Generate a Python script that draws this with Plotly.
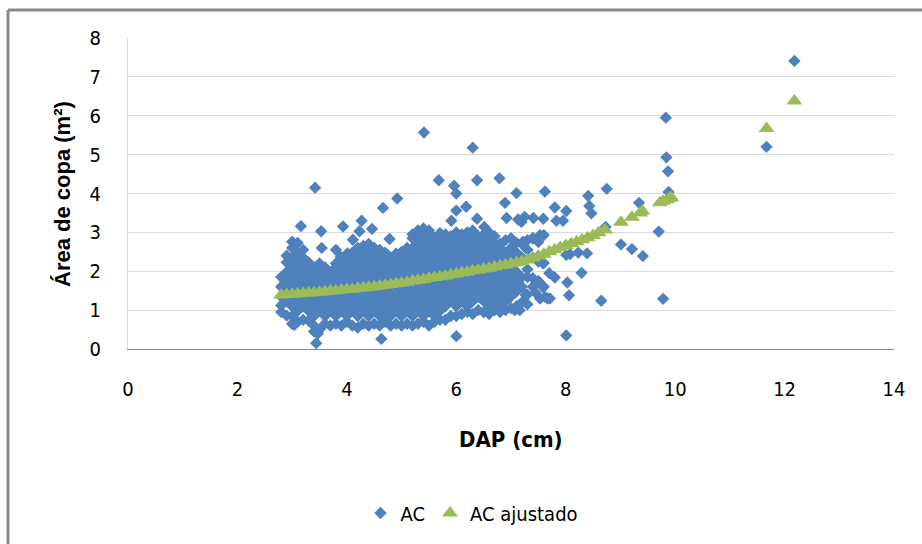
import plotly.graph_objects as go

# ---------------- data ----------------
# Observed crown area (AC): dense cloud, listed column by column (DAP -> AC values)
ac_columns = {
    2.8: [0.95, 1.12, 1.35, 1.6, 1.85],
    2.9: [0.86, 1.23, 1.48, 1.73, 1.98, 2.23, 2.4],
    3.0: [0.65, 0.85, 1.1, 1.35, 1.6, 1.85, 2.1, 2.35, 2.6, 2.76],
    3.1: [0.7, 0.98, 1.23, 1.48, 1.73, 1.98, 2.23, 2.48, 2.73],
    3.2: [0.75, 1.1, 1.35, 1.6, 1.85, 2.1, 2.35, 2.55],
    3.3: [0.73, 0.98, 1.23, 1.48, 1.73, 1.98, 2.23],
    3.4: [0.45, 0.6, 0.85, 1.1, 1.35, 1.6, 1.85, 2.1],
    3.5: [0.5, 0.98, 1.23, 1.48, 1.73, 1.98, 2.2],
    3.6: [0.65, 0.85, 1.1, 1.35, 1.6, 1.85, 2.1],
    3.7: [0.6, 0.98, 1.23, 1.48, 1.73, 1.98],
    3.8: [0.65, 0.85, 1.1, 1.35, 1.6, 1.85, 2.1, 2.2],
    3.9: [0.6, 0.98, 1.23, 1.48, 1.73, 1.98, 2.23],
    4.0: [0.7, 0.85, 1.1, 1.35, 1.6, 1.85, 2.1, 2.35],
    4.1: [0.6, 0.98, 1.23, 1.48, 1.73, 1.98, 2.23, 2.48],
    4.2: [0.55, 0.85, 1.1, 1.35, 1.6, 1.85, 2.1, 2.35, 2.6],
    4.3: [0.65, 0.98, 1.23, 1.48, 1.73, 1.98, 2.23, 2.48, 2.65],
    4.4: [0.6, 0.85, 1.1, 1.35, 1.6, 1.85, 2.1, 2.35, 2.6, 2.7],
    4.5: [0.65, 0.98, 1.23, 1.48, 1.73, 1.98, 2.23, 2.48, 2.6],
    4.6: [0.6, 0.85, 1.1, 1.35, 1.6, 1.85, 2.1, 2.35, 2.55],
    4.7: [0.7, 0.98, 1.23, 1.48, 1.73, 1.98, 2.23, 2.48],
    4.8: [0.6, 0.85, 1.1, 1.35, 1.6, 1.85, 2.1, 2.35],
    4.9: [0.65, 0.98, 1.23, 1.48, 1.73, 1.98, 2.23, 2.45],
    5.0: [0.6, 0.85, 1.1, 1.35, 1.6, 1.85, 2.1, 2.35, 2.5],
    5.1: [0.65, 0.98, 1.23, 1.48, 1.73, 1.98, 2.23, 2.48, 2.6],
    5.2: [0.6, 0.85, 1.1, 1.35, 1.6, 1.85, 2.1, 2.35, 2.6, 2.85, 2.95],
    5.3: [0.65, 0.98, 1.23, 1.48, 1.73, 1.98, 2.23, 2.48, 2.73, 2.98, 3.05],
    5.4: [0.7, 0.85, 1.1, 1.35, 1.6, 1.85, 2.1, 2.35, 2.6, 2.85, 3.1],
    5.5: [0.6, 0.98, 1.23, 1.48, 1.73, 1.98, 2.23, 2.48, 2.73, 2.98, 3.05],
    5.6: [0.7, 0.85, 1.1, 1.35, 1.6, 1.85, 2.1, 2.35, 2.6, 2.85],
    5.7: [0.75, 0.98, 1.23, 1.48, 1.73, 1.98, 2.23, 2.48, 2.73, 2.98],
    5.8: [0.75, 1.1, 1.35, 1.6, 1.85, 2.1, 2.35, 2.6, 2.85, 2.95],
    5.9: [0.85, 1.23, 1.48, 1.73, 1.98, 2.23, 2.48, 2.73, 2.9],
    6.0: [0.85, 1.1, 1.35, 1.6, 1.85, 2.1, 2.35, 2.6, 2.85, 3.0],
    6.1: [0.9, 1.23, 1.48, 1.73, 1.98, 2.23, 2.48, 2.73, 2.95],
    6.2: [0.95, 1.1, 1.35, 1.6, 1.85, 2.1, 2.35, 2.6, 2.85, 3.0],
    6.3: [0.9, 1.23, 1.48, 1.73, 1.98, 2.23, 2.48, 2.73, 2.98, 3.05],
    6.4: [1.0, 1.35, 1.6, 1.85, 2.1, 2.35, 2.6, 2.85, 2.9],
    6.5: [0.95, 1.23, 1.48, 1.73, 1.98, 2.23, 2.48, 2.73, 2.95],
    6.6: [0.9, 1.1, 1.35, 1.6, 1.85, 2.1, 2.35, 2.6, 2.85, 3.0],
    6.7: [1.0, 1.23, 1.48, 1.73, 1.98, 2.23, 2.48, 2.73, 2.9],
    6.8: [0.95, 1.1, 1.35, 1.6, 1.85, 2.1, 2.35, 2.6, 2.7],
    6.9: [1.0, 1.23, 1.48, 1.73, 1.98, 2.23, 2.48, 2.8],
    7.0: [1.05, 1.35, 1.6, 1.85, 2.1, 2.35, 2.6, 2.85],
    7.1: [1.1, 1.48, 1.73, 1.98, 2.23, 2.48, 2.73],
    7.2: [1.2, 1.6, 1.85, 2.35, 2.7],
    7.3: [1.4, 1.85, 2.05, 2.55, 2.8],
    7.4: [1.6, 1.82, 2.35, 2.85],
    7.5: [1.75, 2.25, 2.75],
    7.6: [1.6, 2.21, 2.93],
    7.7: [1.95],
}

# Observed AC: scattered points outside the dense cloud
ac_out_x = [3.16, 3.42, 3.53, 3.93, 4.27, 4.23, 4.46, 4.66, 4.92, 3.54, 3.8, 4.11,
            4.78, 3.44, 3.47, 3.04, 4.63, 3.89, 4.01, 5.41, 6.3, 5.68, 5.96, 6.0,
            6.38, 6.79, 7.1, 6.18, 6.0, 6.89, 6.38, 5.91, 6.92, 7.13, 7.25, 6.51,
            7.22, 6.0, 7.19, 7.41, 7.59, 7.53, 7.4, 7.62, 7.8, 8.01, 7.83, 7.95,
            8.75, 8.41, 8.43, 8.47, 9.34, 9.01, 9.21, 9.41, 8.73, 8.29, 8.06, 8.03,
            7.8, 8.01, 8.65, 9.7, 9.78, 9.83, 9.84, 9.87, 9.88, 11.67, 12.18,
            7.27, 7.53, 7.71, 7.16, 7.07, 8.01, 8.23, 8.39, 8.08, 7.58, 7.58,
            7.62, 7.67, 7.3, 7.45, 2.86]
ac_out_y = [3.16, 4.15, 3.03, 3.15, 3.3, 3.03, 3.09, 3.63, 3.87, 2.6, 2.55, 2.81,
            2.83, 0.15, 0.4, 0.62, 0.26, 2.37, 2.46, 5.57, 5.18, 4.34, 4.2, 4.0,
            4.34, 4.39, 4.01, 3.66, 3.56, 3.76, 3.35, 3.3, 3.37, 3.33, 3.4, 3.14,
            2.76, 0.33, 3.27, 3.37, 3.35, 2.93, 2.85, 4.05, 3.64, 3.55, 3.3, 3.3,
            4.12, 3.94, 3.68, 3.49, 3.76, 2.69, 2.57, 2.39, 3.14, 1.96, 1.38, 1.71,
            1.84, 0.35, 1.24, 3.02, 1.29, 5.95, 4.93, 4.57, 4.04, 5.2, 7.41,
            1.39, 1.3, 1.3, 1.0, 1.0, 2.42, 2.48, 2.46, 2.44, 2.21, 1.6,
            1.34, 1.3, 1.15, 1.45, 1.77]

# Fitted crown area (AC ajustado)
fit_x = [2.8, 2.9, 3.0, 3.1, 3.2, 3.3, 3.4, 3.5, 3.6, 3.7, 3.8, 3.9, 4.0, 4.1,
         4.2, 4.3, 4.4, 4.5, 4.6, 4.7, 4.8, 4.9, 5.0, 5.1, 5.2, 5.3, 5.4, 5.5,
         5.6, 5.7, 5.8, 5.9, 6.0, 6.1, 6.2, 6.3, 6.4, 6.5, 6.6, 6.7, 6.8, 6.9,
         7.0, 7.1, 7.2, 7.3, 7.4, 7.5, 7.6, 7.7, 7.8, 7.9, 8.0, 8.1, 8.2, 8.3,
         8.4, 8.5, 8.6, 8.72, 9.01, 9.21, 9.36, 9.4, 9.72, 9.78, 9.85, 9.9,
         9.93, 11.67, 12.18]
fit_y = [1.39, 1.40, 1.41, 1.42, 1.43, 1.44, 1.45, 1.46, 1.47, 1.49, 1.50, 1.52,
         1.53, 1.54, 1.56, 1.57, 1.59, 1.60, 1.62, 1.64, 1.66, 1.68, 1.70, 1.72,
         1.75, 1.77, 1.79, 1.82, 1.84, 1.86, 1.88, 1.91, 1.93, 1.96, 1.98, 2.01,
         2.03, 2.06, 2.08, 2.11, 2.14, 2.16, 2.19, 2.22, 2.25, 2.29, 2.34, 2.39,
         2.44, 2.50, 2.55, 2.61, 2.66, 2.71, 2.76, 2.81, 2.86, 2.92, 2.99, 3.06,
         3.26, 3.39, 3.50, 3.55, 3.76, 3.80, 3.84, 3.88, 3.90, 5.67, 6.38]

x_ticks = [0, 2, 4, 6, 8, 10, 12, 14]
y_ticks = [0, 1, 2, 3, 4, 5, 6, 7, 8]

# ---------------- figure ----------------
ac_x, ac_y = [], []
for xv, ys in ac_columns.items():
    for yv in ys:
        ac_x.append(xv)
        ac_y.append(yv)
ac_x += ac_out_x
ac_y += ac_out_y

BLUE = "#4f81bd"
GREEN = "#9bbb59"
NARROW = "DejaVu Sans Condensed, Liberation Sans Narrow, sans-serif"
SANS = "Liberation Sans, Arial, sans-serif"

fig = go.Figure()
fig.add_trace(go.Scatter(
    x=ac_x, y=ac_y, mode="markers", name="AC",
    marker=dict(symbol="diamond", size=9.5, color=BLUE, line=dict(width=0)),
))
fig.add_trace(go.Scatter(
    x=fit_x, y=fit_y, mode="markers", name="AC ajustado",
    marker=dict(symbol="triangle-up", size=14, color=GREEN, line=dict(width=0)),
))

L, R, T, B = 128, 28, 38, 195
W, H = 922, 544
pw, ph = W - L - R, H - T - B

def px(xpix):
    return (xpix - L) / pw

def py(ypix):
    return (H - B - ypix) / ph

fig.update_layout(
    width=W, height=H,
    margin=dict(l=L, r=R, t=T, b=B, pad=0),
    paper_bgcolor="white", plot_bgcolor="white",
    showlegend=True,
    legend=dict(orientation="h", x=px(472), y=py(513), xanchor="center", yanchor="middle",
                font=dict(family=NARROW, size=20, color="#000000"),
                itemwidth=30, tracegroupgap=0, bgcolor="rgba(0,0,0,0)"),
    xaxis=dict(range=[0, 14], tickvals=x_ticks, showgrid=False, zeroline=False,
               showline=True, linecolor="#868686", linewidth=1, ticks="",
               tickfont=dict(family=NARROW, size=20, color="#000000"),
               ticklabelstandoff=22),
    yaxis=dict(range=[0, 8], tickvals=y_ticks, showgrid=True, gridcolor="#d9d9d9",
               gridwidth=1, zeroline=False, showline=True, linecolor="#d9d9d9",
               linewidth=1, ticks="",
               tickfont=dict(family=NARROW, size=20, color="#000000"),
               ticklabelstandoff=22),
    annotations=[
        dict(text="<b>Área de copa (m²)</b>", xref="paper", yref="paper",
             x=px(62), y=py(194), xanchor="center", yanchor="middle",
             textangle=-90, showarrow=False,
             font=dict(family=SANS, size=22, color="#000000")),
        dict(text="<b>DAP (cm)</b>", xref="paper", yref="paper",
             x=px(511), y=py(439), xanchor="center", yanchor="middle",
             showarrow=False, font=dict(family=NARROW, size=22, color="#000000")),
    ],
    shapes=[
        dict(type="line", xref="paper", yref="paper", x0=px(8), x1=px(930),
             y0=py(10), y1=py(10), line=dict(color="#8a8a8a", width=3)),
        dict(type="line", xref="paper", yref="paper", x0=px(8), x1=px(8),
             y0=py(10), y1=py(560), line=dict(color="#8a8a8a", width=3)),
    ],
)

fig.write_html("out.html")
